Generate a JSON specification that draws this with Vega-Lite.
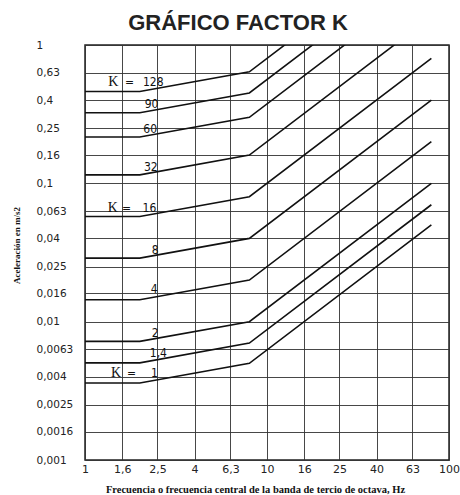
{
  "$schema": "https://vega.github.io/schema/vega-lite/v6.json",
  "width": 364,
  "height": 415,
  "autosize": {"type": "none"},
  "padding": {"left": 85, "top": 45, "right": 11, "bottom": 35},
  "background": "white",
  "title": {"text": "GRÁFICO FACTOR K", "font": "Liberation Sans", "fontSize": 22, "fontWeight": "bold", "color": "#222", "anchor": "middle", "frame": "group", "dx": -29, "offset": 5},
  "config": {
    "view": {"stroke": "#222", "strokeWidth": 1.5},
    "axis": {"gridColor": "#333", "gridWidth": 1, "gridOpacity": 0.9, "domain": false, "ticks": false, "labelColor": "#222", "labelFont": "DejaVu Sans", "titleColor": "#111"}
  },
  "datasets": {
    "curves": [
      {"K": 1, "f": 1, "a": 0.0036}, {"K": 1, "f": 2, "a": 0.0036}, {"K": 1, "f": 8, "a": 0.005}, {"K": 1, "f": 80, "a": 0.05},
      {"K": 1.4, "f": 1, "a": 0.00504}, {"K": 1.4, "f": 2, "a": 0.00504}, {"K": 1.4, "f": 8, "a": 0.007}, {"K": 1.4, "f": 80, "a": 0.07},
      {"K": 2, "f": 1, "a": 0.0072}, {"K": 2, "f": 2, "a": 0.0072}, {"K": 2, "f": 8, "a": 0.01}, {"K": 2, "f": 80, "a": 0.1},
      {"K": 4, "f": 1, "a": 0.0144}, {"K": 4, "f": 2, "a": 0.0144}, {"K": 4, "f": 8, "a": 0.02}, {"K": 4, "f": 80, "a": 0.2},
      {"K": 8, "f": 1, "a": 0.0288}, {"K": 8, "f": 2, "a": 0.0288}, {"K": 8, "f": 8, "a": 0.04}, {"K": 8, "f": 80, "a": 0.4},
      {"K": 16, "f": 1, "a": 0.0576}, {"K": 16, "f": 2, "a": 0.0576}, {"K": 16, "f": 8, "a": 0.08}, {"K": 16, "f": 80, "a": 0.8},
      {"K": 32, "f": 1, "a": 0.1152}, {"K": 32, "f": 2, "a": 0.1152}, {"K": 32, "f": 8, "a": 0.16}, {"K": 32, "f": 80, "a": 1.6},
      {"K": 60, "f": 1, "a": 0.216}, {"K": 60, "f": 2, "a": 0.216}, {"K": 60, "f": 8, "a": 0.3}, {"K": 60, "f": 80, "a": 3},
      {"K": 90, "f": 1, "a": 0.324}, {"K": 90, "f": 2, "a": 0.324}, {"K": 90, "f": 8, "a": 0.45}, {"K": 90, "f": 80, "a": 4.5},
      {"K": 128, "f": 1, "a": 0.4608}, {"K": 128, "f": 2, "a": 0.4608}, {"K": 128, "f": 8, "a": 0.64}, {"K": 128, "f": 80, "a": 6.4}
    ],
    "labels": [
      {"t": "=", "f": 1.756, "a": 0.542}, {"t": "128", "f": 2.37, "a": 0.542},
      {"t": "90", "f": 2.32, "a": 0.376},
      {"t": "60", "f": 2.28, "a": 0.248},
      {"t": "32", "f": 2.30, "a": 0.131},
      {"t": "=", "f": 1.69, "a": 0.0666}, {"t": "16", "f": 2.26, "a": 0.0666},
      {"t": "8", "f": 2.43, "a": 0.0328},
      {"t": "4", "f": 2.40, "a": 0.0171},
      {"t": "2", "f": 2.43, "a": 0.0083},
      {"t": "1,4", "f": 2.53, "a": 0.00596},
      {"t": "=", "f": 1.80, "a": 0.00427}, {"t": "1", "f": 2.41, "a": 0.00427}
    ],
    "klabels": [
      {"t": "K", "f": 1.43, "a": 0.542},
      {"t": "K", "f": 1.42, "a": 0.0666},
      {"t": "K", "f": 1.48, "a": 0.00427}
    ]
  },
  "layer": [
    {
      "data": {"name": "curves"},
      "mark": {"type": "line", "clip": true, "color": "#111", "strokeWidth": 1.6},
      "encoding": {
        "x": {"field": "f", "type": "quantitative",
          "scale": {"type": "log", "domain": [1, 100], "nice": false},
          "axis": {"values": [1, 1.6, 2.5, 4, 6.3, 10, 16, 25, 40, 63, 100], "labelExpr": "replace('' + datum.value, '.', ',')", "labelFontSize": 11, "labelPadding": 3, "labelFlush": false,
            "title": "Frecuencia o frecuencia central de la banda de tercio de octava, Hz", "titleFont": "Liberation Serif", "titleFontWeight": "bold", "titleFontSize": 10.5, "titleX": 170, "titleY": 24, "titleBaseline": "top", "titleAlign": "center"}},
        "y": {"field": "a", "type": "quantitative",
          "scale": {"type": "log", "domain": [0.001, 1], "nice": false},
          "axis": {"values": [0.001, 0.0016, 0.0025, 0.004, 0.0063, 0.01, 0.016, 0.025, 0.04, 0.063, 0.1, 0.16, 0.25, 0.4, 0.63, 1], "labelExpr": "replace('' + datum.value, '.', ',')", "labelFontSize": 10.5, "labelAlign": "left", "labelPadding": 49, "labelFlush": false,
            "title": "Aceleración en m/s2", "titleFont": "Liberation Serif", "titleFontWeight": "bold", "titleFontSize": 9, "titleX": -69, "titleY": 200, "titleBaseline": "middle", "titleAlign": "center", "titleAngle": -90}},
        "detail": {"field": "K", "type": "nominal"}
      }
    },
    {
      "data": {"name": "labels"},
      "mark": {"type": "text", "font": "DejaVu Sans Condensed, DejaVu Sans", "fontSize": 12, "color": "#111", "align": "center", "baseline": "middle"},
      "encoding": {
        "x": {"field": "f", "type": "quantitative"},
        "y": {"field": "a", "type": "quantitative"},
        "text": {"field": "t"}
      }
    },
    {
      "data": {"name": "klabels"},
      "mark": {"type": "text", "font": "Liberation Serif", "fontSize": 14, "color": "#111", "align": "center", "baseline": "middle"},
      "encoding": {
        "x": {"field": "f", "type": "quantitative"},
        "y": {"field": "a", "type": "quantitative"},
        "text": {"field": "t"}
      }
    }
  ]
}
